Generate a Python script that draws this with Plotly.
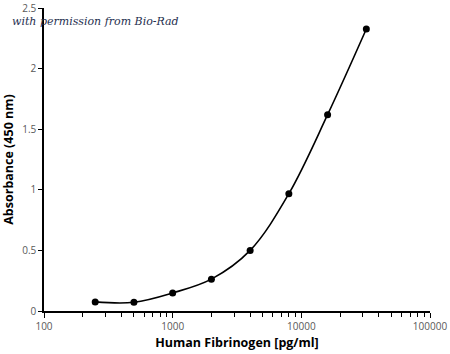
import plotly.graph_objects as go

conc = [250, 500, 1000, 2000, 4000, 8000, 16000, 32000]
absorb = [0.075, 0.072, 0.149, 0.263, 0.50, 0.968, 1.62, 2.327]
x_tickvals = [100, 1000, 10000, 100000]
x_ticktext = ["100", "1000", "10000", "100000"]
y_tickvals = [0, 0.5, 1, 1.5, 2, 2.5]
y_ticktext = ["0", "0.5", "1", "1.5", "2", "2.5"]
minor_vals = [m * d for d in (100, 1000, 10000) for m in range(2, 10)]

fig = go.Figure()
fig.add_trace(go.Scatter(
    x=conc, y=absorb, mode="lines+markers",
    line=dict(color="black", width=1.6, shape="spline", smoothing=1.0),
    marker=dict(color="black", size=7),
    showlegend=False,
))

tickfont = dict(family="Open Sans, Liberation Sans, sans-serif", size=10, color="#595959")
titlefont = dict(family="Open Sans, Liberation Sans, sans-serif", size=12.5, color="black")

fig.update_layout(
    width=450, height=354,
    margin=dict(l=44, r=20, t=8, b=43, autoexpand=False),
    paper_bgcolor="white", plot_bgcolor="white",
    xaxis=dict(
        type="log", range=[2, 5], automargin=False,
        tickvals=x_tickvals, ticktext=x_ticktext,
        ticks="outside", ticklen=5, tickcolor="black", tickwidth=1,
        minor=dict(tickvals=minor_vals, ticks="outside", ticklen=4, tickcolor="black", tickwidth=1, showgrid=False),
        showline=True, linecolor="black", linewidth=1.5,
        showgrid=False, zeroline=False,
        tickfont=tickfont, ticklabeloverflow="allow",
        title=dict(text="<b>Human Fibrinogen [pg/ml]</b>", font=titlefont, standoff=6),
    ),
    yaxis=dict(
        range=[0, 2.5005], automargin=False,
        tickvals=y_tickvals, ticktext=y_ticktext,
        ticks="outside", ticklen=4, tickcolor="black", tickwidth=1,
        showline=True, linecolor="black", linewidth=1.5,
        showgrid=False, zeroline=False,
        tickfont=tickfont, ticklabeloverflow="allow",
        title=dict(text="<b>Absorbance (450 nm)</b>", font=titlefont, standoff=6),
    ),
    annotations=[dict(
        text="<i>with permission from Bio-Rad</i>",
        xref="paper", yref="paper", x=-0.088, y=0.957,
        xanchor="left", yanchor="middle", showarrow=False,
        font=dict(family="DejaVu Serif, Liberation Serif, serif", size=11, color="#1f3050"),
    )],
)

fig.write_html("out.html")
